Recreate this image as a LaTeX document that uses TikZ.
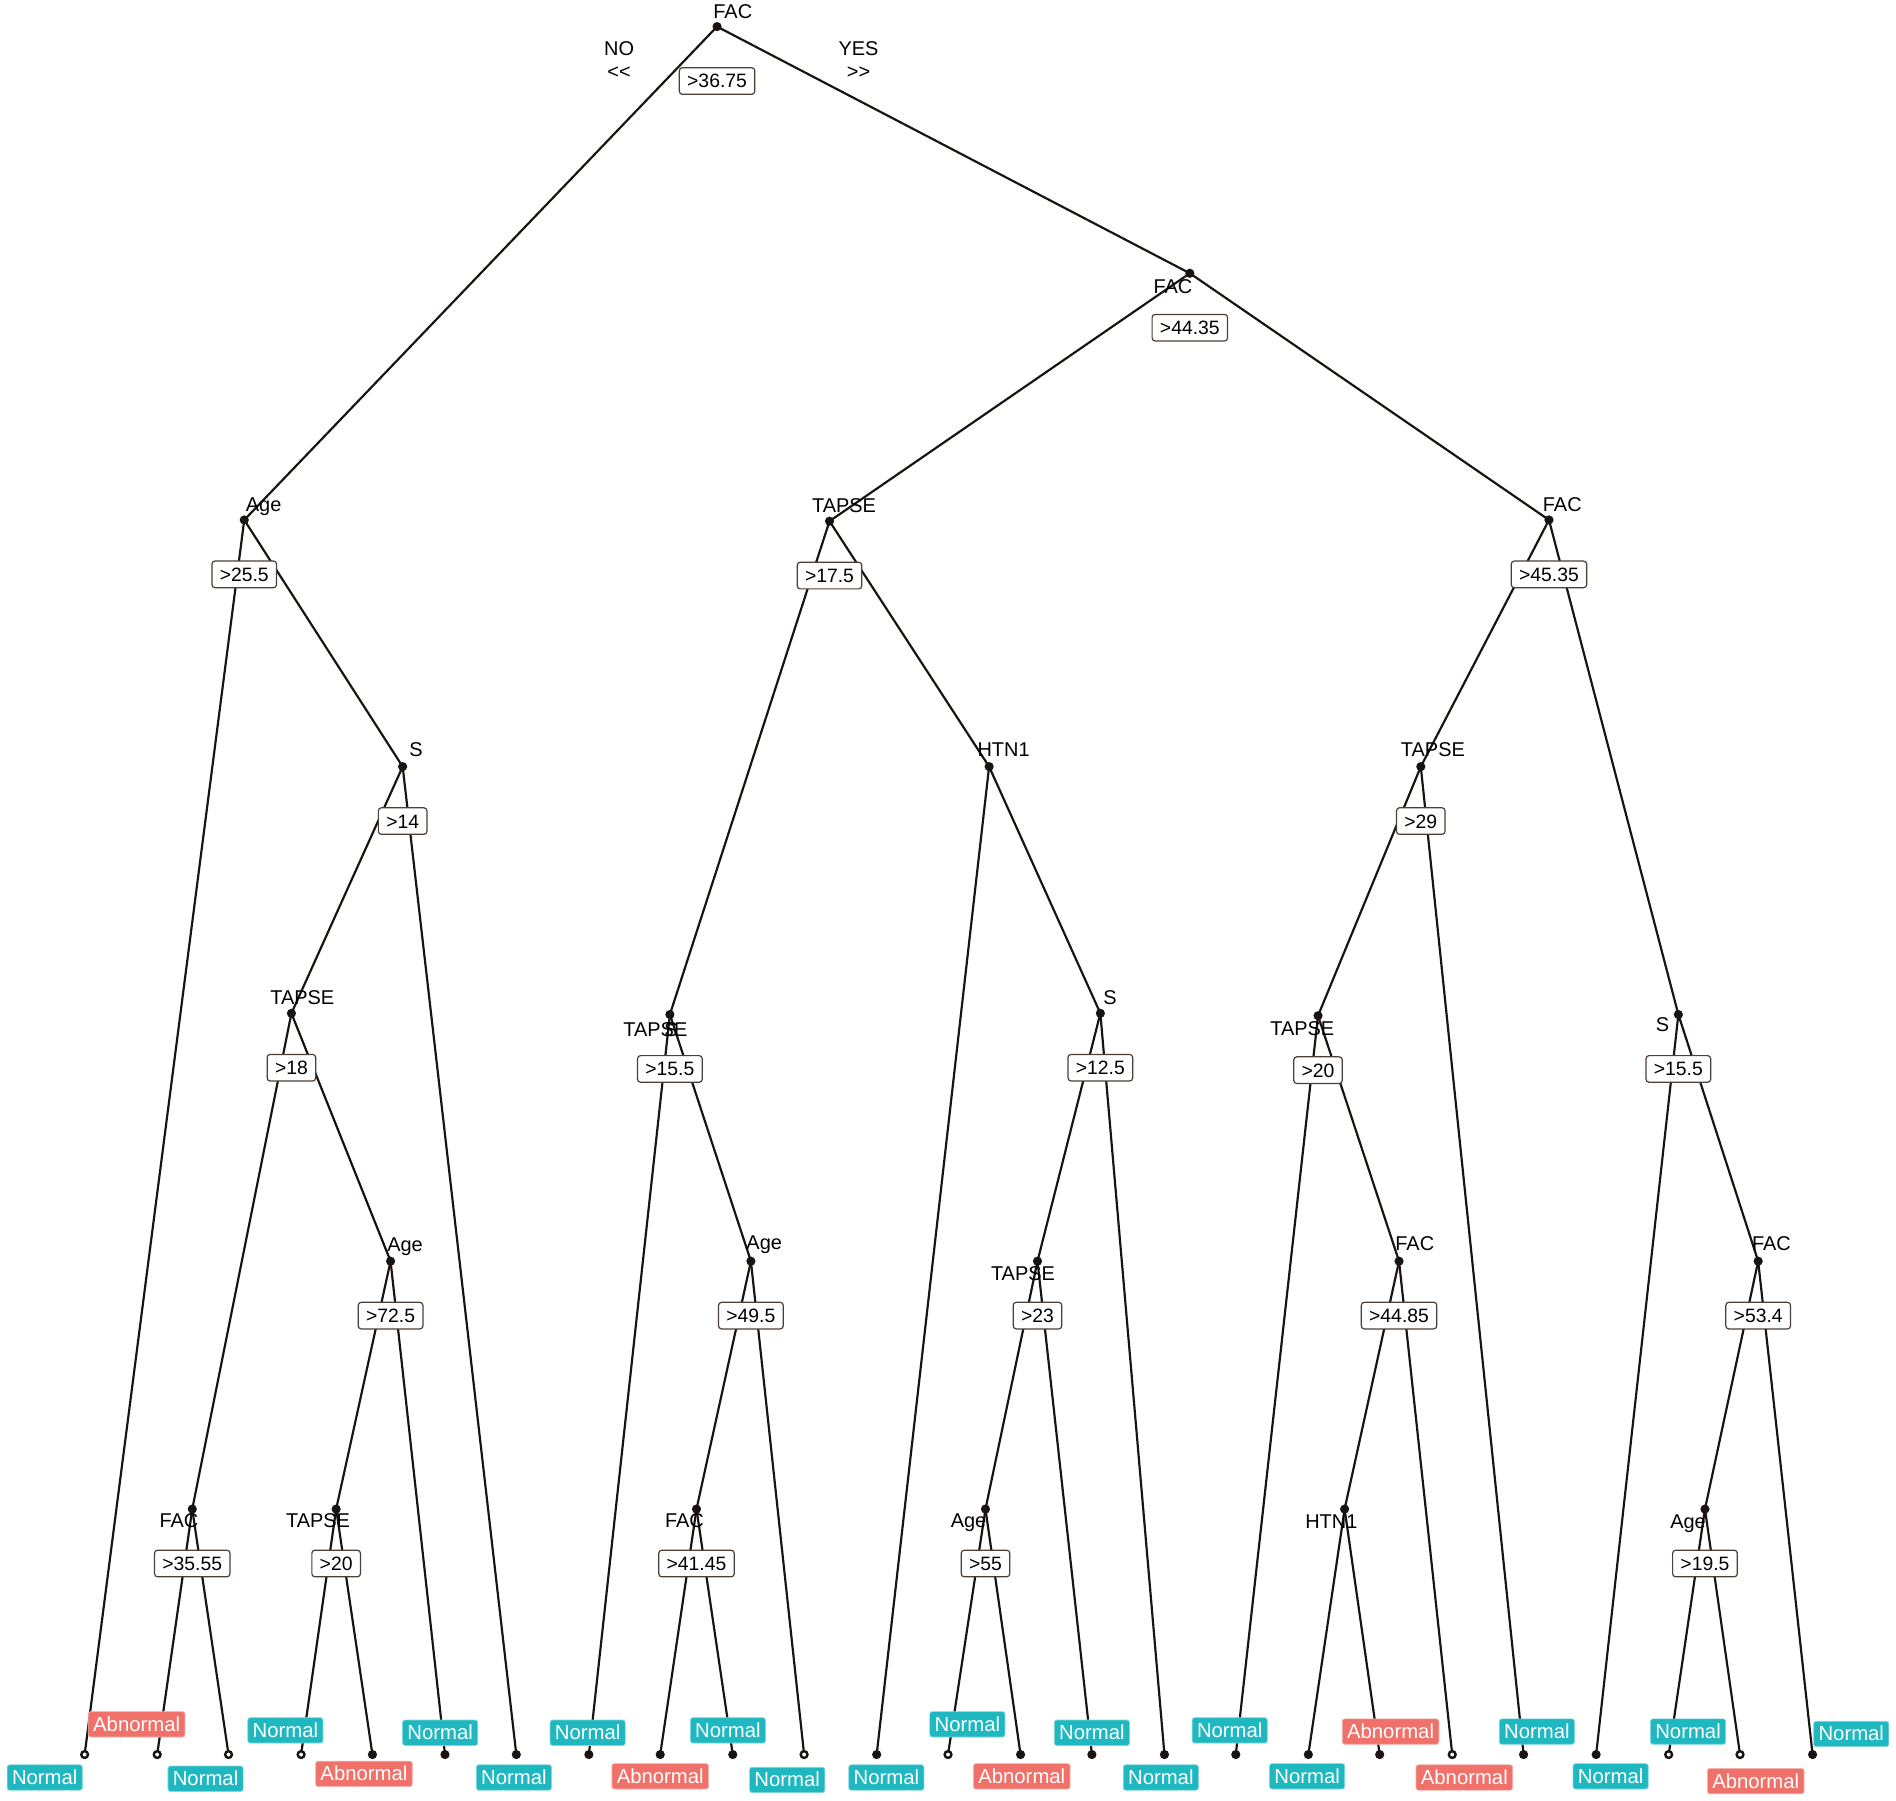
\documentclass[tikz,border=0pt]{standalone}
\usepackage{fontspec}
\setmainfont{Liberation Sans}
\definecolor{teal1}{HTML}{1FB8C0}
\definecolor{red1}{HTML}{F0716A}
\definecolor{edgec}{HTML}{1A1410}
\definecolor{boxc}{HTML}{4A4038}
\tikzset{
 edge/.style={draw=edgec, line width=1.8pt},
 splitbox/.style={draw=boxc, fill=white, rounded corners=2.5pt, line width=1pt, inner xsep=6.5pt, inner ysep=0pt, minimum height=22pt, font=\fontsize{16}{17}\selectfont, text height=11.5pt, text depth=0pt},
 varlab/.style={font=\fontsize{16.5}{18}\selectfont, inner sep=0pt, text height=11.5pt, text depth=3.5pt},
 leafN/.style={fill=teal1, draw=teal1!55!white, text=white, rounded corners=2pt, inner xsep=4pt, inner ysep=0pt, minimum height=21pt, text height=11.5pt, text depth=0pt, font=\fontsize{16.8}{18}\selectfont, line width=0.6pt},
 leafA/.style={leafN, fill=red1, draw=red1!55!white},
 dotc/.style={fill=edgec},
 hookc/.style={draw=edgec, fill=white, line width=2pt},
}
\begin{document}
\begin{tikzpicture}[x=1pt,y=-1pt]
\useasboundingbox[fill=white] (0,0) rectangle (1568,1489);
% internal nodes
\coordinate (r) at (593,22);
\coordinate (f2) at (984,226);
\coordinate (a1) at (202,430);
\coordinate (t1) at (686,431);
\coordinate (f3) at (1281,430);
\coordinate (s1) at (333,634);
\coordinate (h1) at (818,634);
\coordinate (t5) at (1175,634);
\coordinate (t2) at (241,838);
\coordinate (ts) at (554,839);
\coordinate (s2) at (910,838);
\coordinate (t6) at (1090,840);
\coordinate (s3) at (1388,839);
\coordinate (a2) at (323,1043);
\coordinate (a3) at (621,1043);
\coordinate (t4) at (858,1043);
\coordinate (f6) at (1157,1043);
\coordinate (f7) at (1454,1043);
\coordinate (f4) at (159,1248);
\coordinate (t3) at (278,1248);
\coordinate (f5) at (576,1248);
\coordinate (a4) at (815,1248);
\coordinate (h2) at (1112,1248);
\coordinate (a5) at (1410,1248);
% leaves
\foreach \i/\x in {1/70,2/130,3/189,4/249,5/308,6/368,7/427,8/487,9/546,10/606,11/665,12/725,13/784,14/844,15/903,16/963,17/1022,18/1082,19/1141,20/1201,21/1260,22/1320,23/1380,24/1439,25/1499}
  \coordinate (L\i) at (\x,1451);
% edges
\foreach \p/\c in {r/a1,r/f2,f2/t1,f2/f3,a1/L1,a1/s1,s1/t2,s1/L7,t2/f4,t2/a2,f4/L2,f4/L3,a2/t3,a2/L6,t3/L4,t3/L5,
  t1/ts,t1/h1,ts/L8,ts/a3,a3/f5,a3/L11,f5/L9,f5/L10,h1/L12,h1/s2,s2/t4,s2/L16,t4/a4,t4/L15,a4/L13,a4/L14,
  f3/t5,f3/s3,t5/t6,t5/L21,t6/L17,t6/f6,f6/h2,f6/L20,h2/L18,h2/L19,s3/L22,s3/f7,f7/a5,f7/L25,a5/L23,a5/L24}
  \draw[edge] (\p) -- (\c);
% dots
\foreach \n in {r,f2,a1,t1,f3,s1,h1,t5,t2,ts,s2,t6,s3,a2,a3,t4,f6,f7,f4,t3,f5,a4,h2,a5,L5,L6,L7,L8,L9,L10,L12,L14,L15,L16,L17,L18,L19,L21,L22,L25}
  \fill[dotc] (\n) circle (3.8);
\foreach \n in {L1,L2,L3,L4,L11,L13,L20,L23,L24}
  \draw[hookc] (\n) circle (2.8);
% split boxes
\foreach \n/\t in {r/{>36.75},f2/{>44.35},a1/{>25.5},t1/{>17.5},f3/{>45.35},s1/{>14},t5/{>29},t2/{>18},ts/{>15.5},s2/{>12.5},t6/{>20},s3/{>15.5},a2/{>72.5},a3/{>49.5},t4/{>23},f6/{>44.85},f7/{>53.4},f4/{>35.55},t3/{>20},f5/{>41.45},a4/{>55},a5/{>19.5}}
  \node[splitbox] (b\n) at ([yshift=-45pt]\n) {\t};
% variable labels
\node[varlab] (vr) at (606,11) {FAC};
\node[varlab] (vf2) at (970,239) {FAC};
\node[varlab] (va1) at (218,419) {Age};
\node[varlab] (vt1) at (698,420) {TAPSE};
\node[varlab] (vf3) at (1292,419) {FAC};
\node[varlab] (vs1) at (344,622) {S};
\node[varlab] (vh1) at (830,622) {HTN1};
\node[varlab] (vt5) at (1185,622) {TAPSE};
\node[varlab] (vt2) at (250,827) {TAPSE};
\node[varlab] (vts) at (542,853) {TAPSE};
\node[varlab] (vts2) at (555,853) {S};
\node[varlab] (vs2) at (918,827) {S};
\node[varlab] (vt6) at (1077,852) {TAPSE};
\node[varlab] (vs3) at (1375,849) {S};
\node[varlab] (va2) at (335,1031) {Age};
\node[varlab] (va3) at (632,1029) {Age};
\node[varlab] (vt4) at (846,1055) {TAPSE};
\node[varlab] (vf6) at (1170,1030) {FAC};
\node[varlab] (vf7) at (1465,1030) {FAC};
\node[varlab] (vf4) at (148,1259) {FAC};
\node[varlab] (vt3) at (263,1259) {TAPSE};
\node[varlab] (vf5) at (566,1259) {FAC};
\node[varlab] (va4) at (801,1259) {Age};
\node[varlab] (vh2) at (1101,1260) {HTN1};
\node[varlab] (va5) at (1396,1260) {Age};
% NO / YES
\node[varlab] (no) at (512,42) {NO};
\node[varlab] (nol) at (512,61) {<{}<};
\node[varlab] (yes) at (710,42) {YES};
\node[varlab] (yesr) at (710,61) {>{}>};
% leaf labels
\foreach \n/\s/\x/\y/\t in {1/leafN/37/1470/Normal,2/leafA/113/1426/Abnormal,3/leafN/170/1471/Normal,4/leafN/236/1431/Normal,5/leafA/301/1467/Abnormal,6/leafN/364/1433/Normal,7/leafN/425/1470/Normal,
  8/leafN/486/1433/Normal,9/leafA/546/1469/Abnormal,10/leafN/602/1431/Normal,11/leafN/651/1472/Normal,12/leafN/733/1470/Normal,13/leafN/800/1426/Normal,14/leafA/845/1469/Abnormal,15/leafN/903/1433/Normal,
  16/leafN/960/1470/Normal,17/leafN/1017/1431/Normal,18/leafN/1081/1469/Normal,19/leafA/1150/1432/Abnormal,20/leafA/1211/1470/Abnormal,21/leafN/1271/1432/Normal,22/leafN/1332/1469/Normal,
  23/leafN/1396/1432/Normal,24/leafA/1452/1473/Abnormal,25/leafN/1531/1434/Normal}
  \node[\s] (t\n) at (\x,\y) {\t};
\end{tikzpicture}
\end{document}
